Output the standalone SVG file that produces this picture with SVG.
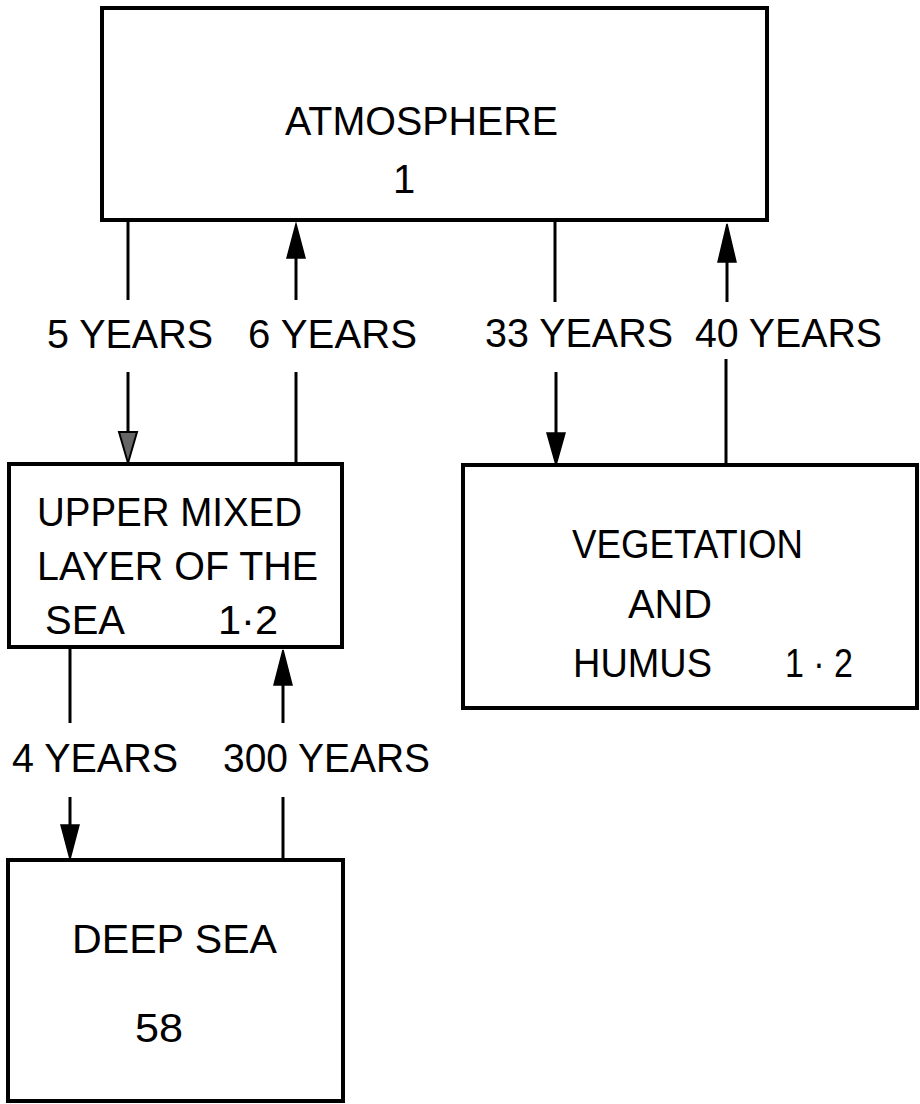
<svg xmlns="http://www.w3.org/2000/svg" width="920" height="1104" viewBox="0 0 920 1104">
<defs>
<style>
.box{fill:#fff;stroke:#000;stroke-width:4}
.ln{stroke:#000;stroke-width:3;fill:none}
.hd{fill:#000;stroke:#000;stroke-width:1.5}
.hd2{fill:#666;stroke:#000;stroke-width:2}
text{font-family:"Liberation Sans","DejaVu Sans",sans-serif;font-size:40px;fill:#000}
.lb{font-size:41px}
</style>
</defs>
<rect width="920" height="1104" fill="#fff"/>
<g id="connectors">
<!-- 5 YEARS -->
<line class="ln" x1="128" y1="222" x2="128" y2="300"/>
<line class="ln" x1="128" y1="372" x2="128" y2="440"/>
<polygon class="hd2" points="119,432 137,432 128,463"/>
<!-- 6 YEARS -->
<polygon class="hd" points="296,224 287,258 305,258"/>
<line class="ln" x1="296" y1="256" x2="296" y2="300"/>
<line class="ln" x1="296" y1="372" x2="296" y2="464"/>
<!-- 33 YEARS -->
<line class="ln" x1="555" y1="222" x2="555" y2="302"/>
<line class="ln" x1="556" y1="372" x2="556" y2="436"/>
<polygon class="hd" points="547,433 565,433 556,465"/>
<!-- 40 YEARS -->
<polygon class="hd" points="727,224 718,262 736,262"/>
<line class="ln" x1="727" y1="260" x2="727" y2="302"/>
<line class="ln" x1="726" y1="359" x2="726" y2="465"/>
<!-- 4 YEARS -->
<line class="ln" x1="70" y1="648" x2="70" y2="723"/>
<line class="ln" x1="70" y1="797" x2="70" y2="828"/>
<polygon class="hd" points="61,825 79,825 70,859"/>
<!-- 300 YEARS -->
<polygon class="hd" points="283,650 274,685 292,685"/>
<line class="ln" x1="283" y1="683" x2="283" y2="723"/>
<line class="ln" x1="283" y1="797" x2="283" y2="860"/>
</g>
<g id="labels">
<text class="lb" x="47" y="348" textLength="166" lengthAdjust="spacingAndGlyphs">5 YEARS</text>
<text class="lb" x="248" y="348" textLength="169" lengthAdjust="spacingAndGlyphs">6 YEARS</text>
<text class="lb" x="485" y="347" textLength="188" lengthAdjust="spacingAndGlyphs">33 YEARS</text>
<text class="lb" x="695" y="347" textLength="187" lengthAdjust="spacingAndGlyphs">40 YEARS</text>
<text class="lb" x="12" y="772" textLength="166" lengthAdjust="spacingAndGlyphs">4 YEARS</text>
<text class="lb" x="223" y="772" textLength="207" lengthAdjust="spacingAndGlyphs">300 YEARS</text>
</g>
<g id="atmosphere">
<rect class="box" x="102" y="8" width="665" height="212"/>
<text x="285" y="135" textLength="273" lengthAdjust="spacingAndGlyphs">ATMOSPHERE</text>
<text x="393" y="193">1</text>
</g>
<g id="upper-mixed-layer">
<rect class="box" x="9" y="464" width="333" height="183"/>
<text x="37" y="526" textLength="265" lengthAdjust="spacingAndGlyphs">UPPER MIXED</text>
<text x="37" y="580" textLength="281" lengthAdjust="spacingAndGlyphs">LAYER OF THE</text>
<text x="45" y="634" textLength="80" lengthAdjust="spacingAndGlyphs">SEA</text>
<text x="218" y="634" textLength="60" lengthAdjust="spacingAndGlyphs">1·2</text>
</g>
<g id="vegetation">
<rect class="box" x="463" y="465" width="454" height="243"/>
<text x="572" y="558" textLength="231" lengthAdjust="spacingAndGlyphs">VEGETATION</text>
<text x="628" y="618" textLength="84" lengthAdjust="spacingAndGlyphs">AND</text>
<text x="573" y="677" textLength="139" lengthAdjust="spacingAndGlyphs">HUMUS</text>
<text x="785" y="677" textLength="68" lengthAdjust="spacingAndGlyphs">1 · 2</text>
</g>
<g id="deep-sea">
<rect class="box" x="8" y="860" width="335" height="241"/>
<text x="72" y="953" textLength="205" lengthAdjust="spacingAndGlyphs">DEEP SEA</text>
<text x="135" y="1042" textLength="48" lengthAdjust="spacingAndGlyphs">58</text>
</g>
</svg>
